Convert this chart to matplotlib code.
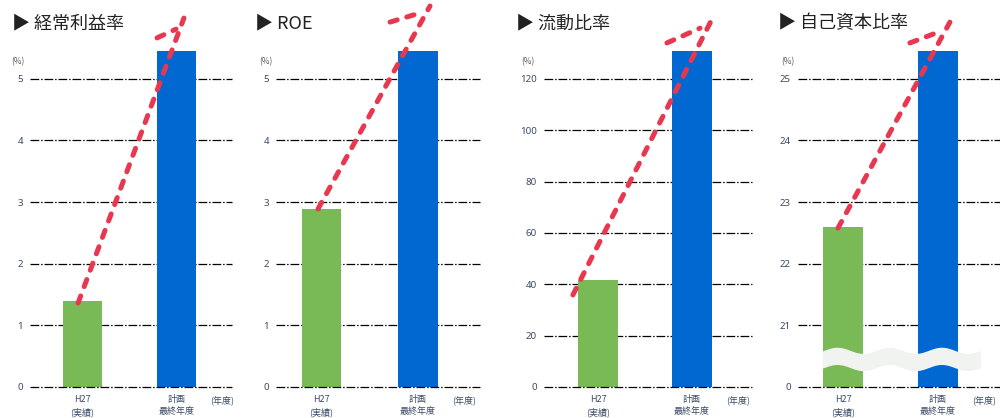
import numpy as np
import matplotlib
matplotlib.use("Agg")
import matplotlib.pyplot as plt

plt.rcParams['font.family'] = ['Noto Sans CJK JP', 'DejaVu Sans']

# ---------------- data ----------------
titles = ["経常利益率", "ROE", "流動比率", "自己資本比率"]
categories = ["H27\n(実績)", "計画\n最終年度"]
unit_label = "(%)"
year_label = "(年度)"

actual_values = [1.40, 2.89, 41.7, 22.6]      # H27 実績
plan_values = [5.45, 5.45, 130.9, 25.45]      # 計画最終年度 (bars reach top of scale)

ticks_p1 = [0, 1, 2, 3, 4, 5]
ticks_p2 = [0, 1, 2, 3, 4, 5]
ticks_p3 = [0, 20, 40, 60, 80, 100, 120]
ticks_p4 = [0, 21, 22, 23, 24, 25]
tick_sets = [ticks_p1, ticks_p2, ticks_p3, ticks_p4]
break_offset_p4 = 20   # axis break: 0 -> 21 in last panel

# ---------------- layout (pixels) ----------------
W, H = 1000, 418
fig = plt.figure(figsize=(W / 100, H / 100), dpi=100)

ax_x = [(30, 232), (276, 480), (544, 752), (798, 1000)]
bar_centers = [(82.5, 176.5), (321.5, 418), (598, 692), (843, 938)]
bar_w_px = 39.5
y_bottom_px, y_top_px = 387, 51
title_x = [12, 255, 516, 778]
pct_x = [25, 273, 535, 795]

# arrow geometry in axes fraction: start, barb start, barb end, tip
arrows = [
    dict(start=(0.238, 0.250), tip=(0.762, 1.098), bs=(0.723, 1.065), be=(0.629, 1.039)),
    dict(start=(0.206, 0.530), tip=(0.755, 1.134), bs=(0.721, 1.116), be=(0.559, 1.086)),
    dict(start=(0.139, 0.274), tip=(0.8125, 1.101), bs=(0.750, 1.068), be=(0.591, 1.024)),
    dict(start=(0.198, 0.473), tip=(0.752, 1.086), bs=(0.698, 1.057), be=(0.554, 1.024)),
]

green = '#79ba57'
blue = '#0068d0'
red = '#e8384f'
tick_col = '#3b4a66'
grid_ls = (0, (7, 1.5, 1.2, 1.5))

for i in range(4):
    x0, x1 = ax_x[i]
    gc, bc = bar_centers[i]
    d = bc - gc
    ax = fig.add_axes([x0 / W, 1 - y_bottom_px / H, (x1 - x0) / W, (y_bottom_px - y_top_px) / H])
    ticks = tick_sets[i]
    if i == 3:
        tpos = [0] + [t - break_offset_p4 for t in ticks[1:]]
        vals = [actual_values[i] - break_offset_p4, plan_values[i] - break_offset_p4]
    else:
        tpos = ticks
        vals = [actual_values[i], plan_values[i]]
    ax.set_xlim((x0 - gc) / d, (x1 - gc) / d)
    ax.set_ylim(0, vals[1])
    bw = bar_w_px / d
    ax.bar([0, 1], vals, width=bw, color=[green, blue], zorder=2)
    for t in tpos:
        ax.axhline(t, color='black', lw=0.9, ls=grid_ls, zorder=1 if t != 0 else 3, clip_on=False)
    for s in ax.spines.values():
        s.set_visible(False)
    ax.set_yticks(tpos)
    ax.set_yticklabels([str(t) for t in ticks], fontsize=7, color=tick_col, family=['Noto Sans', 'DejaVu Sans'])
    ax.tick_params(axis='y', length=0, pad=5)
    ax.set_xticks([0, 1])
    ax.set_xticklabels(categories, fontsize=6.5, color=tick_col, linespacing=1.4)
    ax.tick_params(axis='x', length=0, pad=6)
    ax.text(1 + 46 / d, -13 / (y_bottom_px - y_top_px) * vals[1], year_label, fontsize=6.5, color=tick_col,
            ha='center', va='center', clip_on=False)

    # axis break band in last panel
    if i == 3:
        xs = np.linspace(-bw / 2 - 0.01, 1 + bw / 2 + 0.24, 200)
        yc = 0.455 + 0.05 * np.sin((xs + 0.2) * 2 * np.pi / 0.55)
        ax.fill_between(xs, yc - 0.14, yc + 0.14, color='#f1f3f1', lw=0, zorder=4)

    # arrow
    a = arrows[i]
    kw = dict(color=red, lw=3.6, ls=(0, (1.5, 2.0)), dash_capstyle='round', solid_capstyle='round',
              transform=ax.transAxes, clip_on=False, zorder=6)
    ax.plot([a['start'][0], a['tip'][0]], [a['start'][1], a['tip'][1]], **kw)
    ax.plot([a['be'][0], a['bs'][0]], [a['be'][1], a['bs'][1]], **kw)

    # titles & unit
    fig.text(title_x[i] / W, 1 - 23 / H, "▶ " + titles[i], fontsize=13, color='#222222',
             ha='left', va='center', family=['Noto Sans CJK JP', 'DejaVu Sans'])
    fig.text(pct_x[i] / W, 1 - 62 / H, unit_label, fontsize=6, color='#555555', ha='right', va='center')

fig.savefig("out.png", dpi=100)
